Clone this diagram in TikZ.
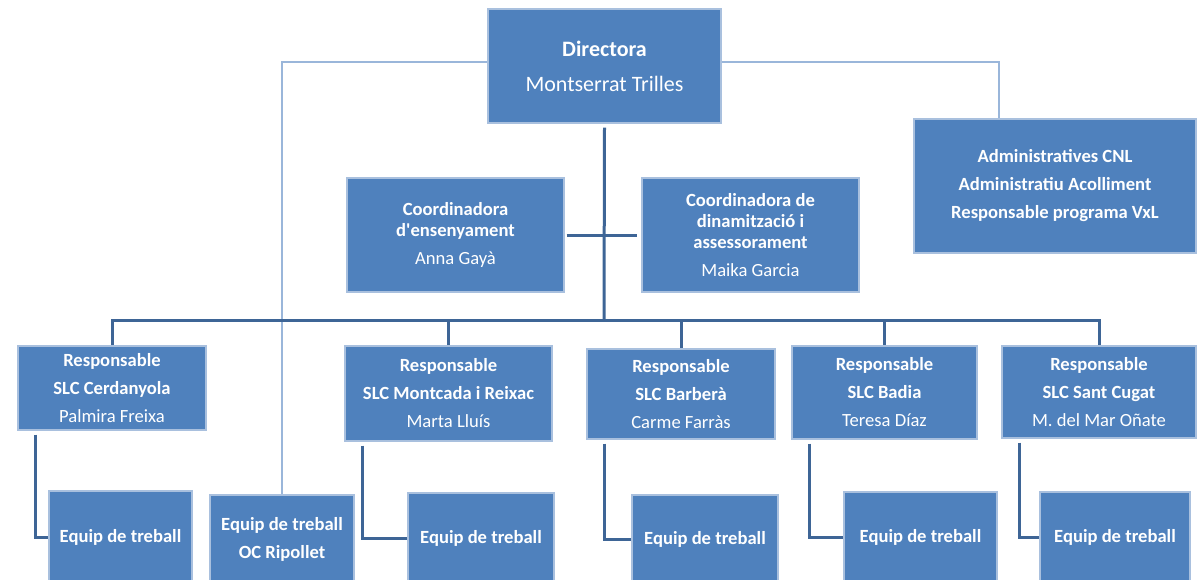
\documentclass[tikz,border=0pt]{standalone}
\usepackage{fontspec}
\setmainfont{Carlito}[Ligatures=TeXOff]
\definecolor{boxblue}{HTML}{4F81BD}
\definecolor{boxedge}{HTML}{A9C0DE}
\definecolor{trunkblue}{HTML}{3E6596}
\definecolor{thinblue}{HTML}{9AB6DA}
\begin{document}
\begin{tikzpicture}[x=0.5pt, y=-0.5pt,
	box/.style={rectangle, fill=boxblue, draw=boxedge, line width=0.6pt, text=white, align=center, inner sep=0pt, font=\fontsize{9.3}{10.5}\selectfont},
	trunk/.style={draw=trunkblue, line width=1.5pt},
	thin/.style={draw=thinblue, line width=1pt}]
	\useasboundingbox (0,0) rectangle (1200,579);
	\def\gap{3.5pt};
	\node[box, minimum width=116.5pt, minimum height=57pt, font=\fontsize{11}{13}\selectfont] (dir) at (604.5,66) {\textbf{Directora}\\[4.5pt]Montserrat Trilles};
	\node[box, minimum width=141pt, minimum height=67pt, font=\bfseries\fontsize{9.3}{10.5}\selectfont] (admin) at (1055,186) {Administratives CNL\\[\gap]Administratiu Acolliment\\[\gap]Responsable programa VxL};
	\node[box, minimum width=108.5pt, minimum height=57pt] (coordA) at (455.5,235) {\textbf{Coordinadora}\\\textbf{d'ensenyament}\\[\gap]Anna Gayà};
	\node[box, minimum width=108.5pt, minimum height=57pt] (coordB) at (750.5,235) {\textbf{Coordinadora de}\\\textbf{dinamització i}\\\textbf{assessorament}\\[\gap]Maika Garcia};
	\node[box, minimum width=94pt, minimum height=42pt] (resp1) at (112,388) {\textbf{Responsable}\\[\gap]\textbf{SLC Cerdanyola}\\[\gap]Palmira Freixa};
	\node[box, minimum width=103.5pt, minimum height=47.5pt] (resp2) at (448.5,393.5) {\textbf{Responsable}\\[\gap]\textbf{SLC Montcada i Reixac}\\[\gap]Marta Lluís};
	\node[box, minimum width=94pt, minimum height=45pt] (resp3) at (681,394) {\textbf{Responsable}\\[\gap]\textbf{SLC Barberà}\\[\gap]Carme Farràs};
	\node[box, minimum width=92.5pt, minimum height=46.5pt] (resp4) at (884.5,392.5) {\textbf{Responsable}\\[\gap]\textbf{SLC Badia}\\[\gap]Teresa Díaz};
	\node[box, minimum width=97pt, minimum height=46pt] (resp5) at (1099,392) {\textbf{Responsable}\\[\gap]\textbf{SLC Sant Cugat}\\[\gap]M. del Mar Oñate};
	\node[box, minimum width=71.5pt, minimum height=46pt] (eq1) at (120.5,537) {\textbf{Equip de treball}};
	\node[box, minimum width=72pt, minimum height=44pt] (eqoc) at (282,539) {\textbf{Equip de treball}\\[\gap]\textbf{OC Ripollet}};
	\node[box, minimum width=73pt, minimum height=45pt] (eq2) at (481,538) {\textbf{Equip de treball}};
	\node[box, minimum width=73pt, minimum height=44pt] (eq3) at (705,539) {\textbf{Equip de treball}};
	\node[box, minimum width=76.5pt, minimum height=45.5pt] (eq4) at (920.5,537.5) {\textbf{Equip de treball}};
	\node[box, minimum width=75pt, minimum height=45.5pt] (eq5) at (1115,537.5) {\textbf{Equip de treball}};
	\coordinate (hub) at (604,320);
	\draw[thin] ([yshift=2pt]dir.west) -| (eqoc.north);
	\draw[thin] ([yshift=2pt]dir.east) -| ([xshift=-28pt]admin.north);
	\draw[trunk] ([yshift=-2pt]dir.south) -- (hub);
	\foreach \i in {1,...,5}
		\draw[trunk] (hub) -| (resp\i.north);
	\draw[trunk] ([xshift=1pt]coordA.east) -- ([xshift=-2pt]coordB.west);
	\foreach \i in {1,...,5}
		\draw[trunk] ([xshift=9pt, yshift=-2pt]resp\i.south west) |- (eq\i.west);
\end{tikzpicture}
\end{document}
